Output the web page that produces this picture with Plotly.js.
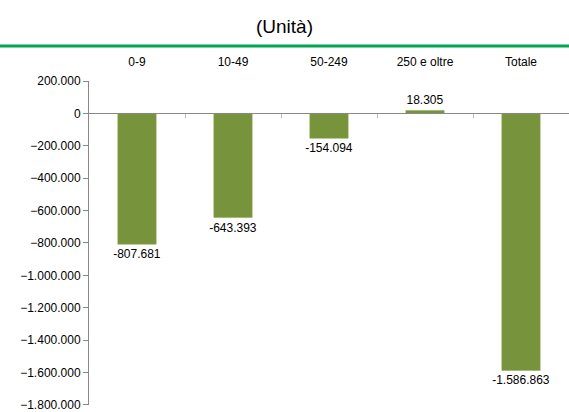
<!DOCTYPE html>
<html><head><meta charset="utf-8">
<script src="https://cdn.plot.ly/plotly-3.0.1.min.js"></script>
<style>html,body{margin:0;padding:0;background:#fff}#chart{width:569px;height:412px}</style>
</head><body><div id="chart"></div>
<script>
var categories = ['0-9', '10-49', '50-249', '250 e oltre', 'Totale'];
var values = [-807681, -643393, -154094, 18305, -1586863];
var yTicks = [200000, 0, -200000, -400000, -600000, -800000, -1000000, -1200000, -1400000, -1600000, -1800000];

var yMin = -1800000, yMax = 200000;
var zeroFrac = (0 - yMin) / (yMax - yMin);

var trace = {
  type: 'bar',
  x: categories,
  y: values,
  marker: {color: '#77933C', line: {color: '#8AA84E', width: 0.5}},
  texttemplate: '%{y:,.0f}',
  textposition: 'outside',
  constraintext: 'none',
  cliponaxis: false,
  textfont: {family: 'Liberation Sans, Arial, sans-serif', size: 12, color: '#000'},
  hoverinfo: 'skip'
};

var layout = {
  width: 569, height: 412,
  margin: {l: 89, r: 0, t: 81, b: 7},
  paper_bgcolor: '#fff', plot_bgcolor: '#fff',
  separators: ',.',
  showlegend: false,
  bargap: 0.6,
  font: {family: 'Liberation Sans, Arial, sans-serif', size: 12, color: '#000'},
  title: {text: '(Unità)', x: 0.5, xanchor: 'center', y: 1 - 26/412, yanchor: 'middle',
          font: {family: 'Liberation Sans, Arial, sans-serif', size: 19, color: '#000'}},
  xaxis: {
    type: 'category',
    side: 'top',
    anchor: 'free',
    position: zeroFrac,
    showline: true, linecolor: '#888', linewidth: 1,
    ticks: 'inside', ticklen: 4, tickcolor: '#bbb', tickson: 'boundaries',
    ticklabelstandoff: 43,
    showgrid: false, zeroline: false,
    tickfont: {size: 12, color: '#000'},
    fixedrange: true
  },
  yaxis: {
    range: [yMin - 200, yMax],
    tickmode: 'array', tickvals: yTicks,
    tickformat: ',.0f',
    showline: true, linecolor: '#888', linewidth: 1,
    ticks: 'outside', ticklen: 5, tickcolor: '#888',
    showgrid: false, zeroline: false,
    ticklabeloverflow: 'allow',
    tickfont: {size: 12, color: '#000'},
    fixedrange: true
  },
  shapes: [{
    type: 'line', xref: 'paper', yref: 'paper',
    x0: -89/480, x1: 1, y0: (405-46)/324, y1: (405-46)/324,
    line: {color: '#00A651', width: 3}
  }]
};

Plotly.newPlot('chart', [trace], layout, {displayModeBar: false, staticPlot: true});
</script></body></html>
